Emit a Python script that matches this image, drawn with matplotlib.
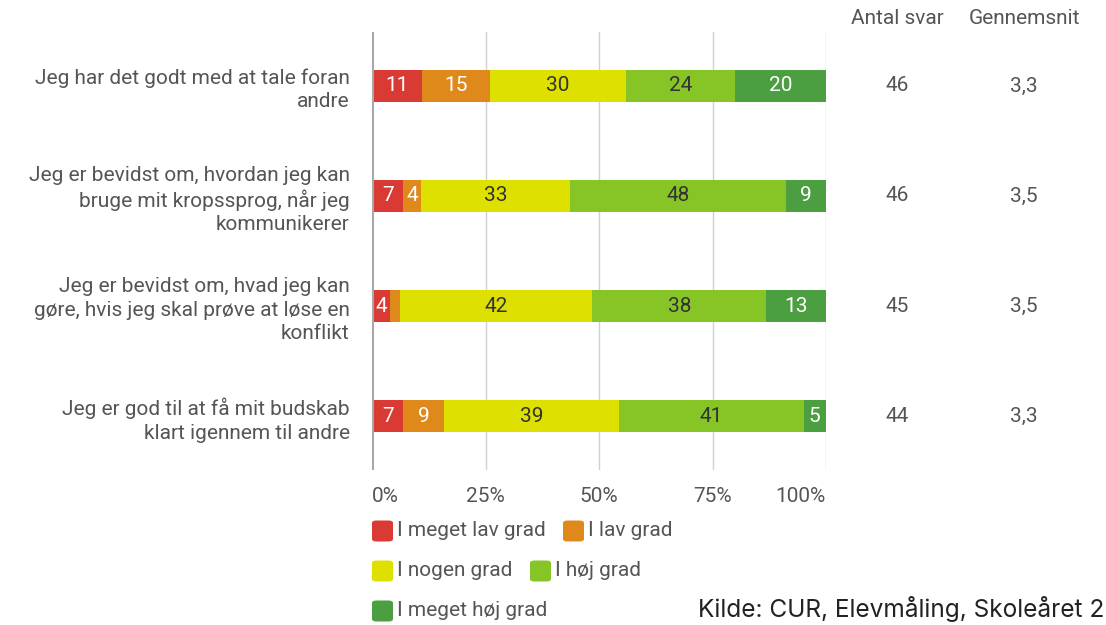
import matplotlib
matplotlib.use("Agg")
import matplotlib.pyplot as plt
from matplotlib.patches import FancyBboxPatch
from matplotlib.transforms import blended_transform_factory
import numpy as np

categories = [
    "Jeg har det godt med at tale foran\nandre",
    "Jeg er bevidst om, hvordan jeg kan\nbruge mit kropssprog, når jeg\nkommunikerer",
    "Jeg er bevidst om, hvad jeg kan\ngøre, hvis jeg skal prøve at løse en\nkonflikt",
    "Jeg er god til at få mit budskab\nklart igennem til andre",
]
series_names = ["I meget lav grad", "I lav grad", "I nogen grad", "I høj grad", "I meget høj grad"]
values = np.array([
    [11, 15, 30, 24, 20],
    [7, 4, 33, 48, 9],
    [4, 2, 42, 38, 13],
    [7, 9, 39, 41, 5],
], dtype=float)
antal_svar = ["46", "46", "45", "44"]
gennemsnit = ["3,3", "3,5", "3,5", "3,3"]
tick_labels = ["0%", "25%", "50%", "75%", "100%"]
source_text = "Kilde: CUR, Elevmåling, Skoleåret 2"

colors = ["#d93b34", "#e0891b", "#dee000", "#87c526", "#4c9f41"]
label_colors = ["white", "white", "#333333", "#333333", "white"]
text_gray = "#555555"
FS = 15

plt.rcParams["font.family"] = ["Roboto", "DejaVu Sans"]

fig = plt.figure(figsize=(11.06, 6.25), dpi=100)
W, H = 1106, 625
ax = fig.add_axes([372 / W, 1 - 470 / H, (826 - 372) / W, (470 - 32) / H])

shares = values / values.sum(axis=1, keepdims=True) * 100
y = np.arange(len(categories))
left = np.zeros(len(categories))
for j in range(len(series_names)):
    ax.barh(y, shares[:, j], left=left, height=0.29, color=colors[j], zorder=3)
    for i in range(len(categories)):
        if values[i, j] >= 4:
            ax.text(left[i] + shares[i, j] / 2, y[i], f"{int(values[i, j])}",
                    ha="center", va="center", fontsize=FS, color=label_colors[j], zorder=4)
    left += shares[:, j]

ax.set_xlim(0, 100)
ax.set_ylim(len(categories) - 0.51, -0.49)
ax.set_xticks([0, 25, 50, 75, 100])
ax.set_xticklabels(tick_labels, fontsize=FS, color=text_gray)
tl = ax.get_xticklabels()
tl[0].set_ha("left")
tl[-1].set_ha("right")
ax.set_yticks(y)
ax.set_yticklabels(categories, fontsize=FS, color=text_gray, linespacing=1.28)
ax.tick_params(axis="both", length=0)
ax.tick_params(axis="x", pad=12)
ax.tick_params(axis="y", pad=16)
for s in ax.spines.values():
    s.set_visible(False)
ax.grid(axis="x", color="#d0d0d0", linewidth=1, zorder=0)
ax.axvline(0, color="#a8a8a8", linewidth=2.2, zorder=5)

# right-hand columns
tr = blended_transform_factory(fig.transFigure, ax.transData)
for i in range(len(categories)):
    ax.text(897 / W, y[i], antal_svar[i], transform=tr,
            ha="center", va="center", fontsize=FS, color=text_gray)
    ax.text(1024 / W, y[i], gennemsnit[i], transform=tr,
            ha="center", va="center", fontsize=FS, color=text_gray)
fig.text(897 / W, 1 - 18 / H, "Antal svar", ha="center", va="center", fontsize=FS, color=text_gray)
fig.text(1024 / W, 1 - 18 / H, "Gennemsnit", ha="center", va="center", fontsize=FS, color=text_gray)

# legend
legend_pos = [(372, 531), (563, 531), (372, 571), (530, 571), (372, 611)]
bw, bh = 21, 21
for (px, py), name, c in zip(legend_pos, series_names, colors):
    box = FancyBboxPatch((px / W, 1 - (py + bh / 2) / H), bw / W, bh / H,
                         boxstyle="round,pad=0,rounding_size=0.004", transform=fig.transFigure,
                         facecolor=c, edgecolor="none")
    fig.patches.append(box)
    fig.text((px + bw + 4) / W, 1 - py / H, name, ha="left", va="center",
             fontsize=FS, color=text_gray)

fig.text(1104 / W, 1 - 617 / H, source_text,
         ha="right", va="baseline", fontsize=17.6, color="#222222", family=["Inter", "DejaVu Sans"])

fig.savefig("out.png", dpi=100, facecolor="white")
